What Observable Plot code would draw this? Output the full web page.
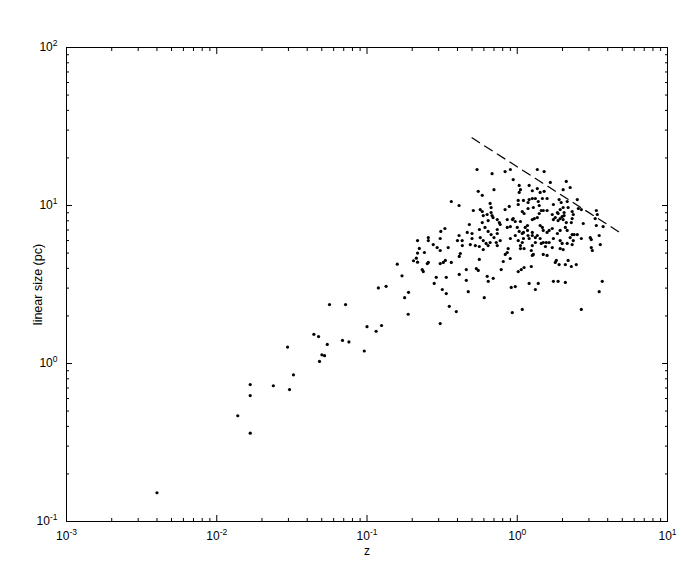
<!DOCTYPE html>
<html><head><meta charset="utf-8">
<script src="https://cdn.jsdelivr.net/npm/d3@7"></script>
<script src="https://cdn.jsdelivr.net/npm/@observablehq/plot@0.6"></script>
<style>body{margin:0;background:#fff}</style>
</head><body><div id="chart"></div>
<script>
// [z, linear size (pc)]
const lowZ = [[0.004,0.152],[0.0138,0.467],[0.0167,0.736],[0.0167,0.627],[0.0167,0.362],[0.0238,0.723],[0.0305,0.684],[0.0296,1.27],[0.0324,0.848],[0.0443,1.53],[0.0476,1.48],[0.0544,1.32],[0.0501,1.135],[0.0522,1.12],[0.0483,1.03],[0.0687,1.40],[0.0758,1.37],[0.0959,1.20],[0.1,1.71],[0.115,1.60],[0.125,1.74],[0.0563,2.36],[0.072,2.36],[0.119,3.01],[0.134,3.08],[0.159,4.25],[0.171,3.59],[0.189,2.82],[0.178,2.61],[0.188,2.05],[0.217,6.0],[0.223,5.35],[0.217,5.0],[0.213,4.64],[0.204,4.47],[0.217,4.38]];
const coreUpper = [[0.54,16.9],[0.68,15.9],[0.83,16.4],[0.90,16.9],[1.36,16.9],[0.94,14.6],[0.55,12.3],[0.585,11.6],[0.70,12.6],[1.03,13.4],[1.05,12.6],[1.03,12.1],[1.20,13.4],[1.26,12.4],[1.36,12.8],[0.364,10.6],[0.41,10.0],[0.51,9.3],[0.567,9.43],[0.585,9.16],[0.66,10.3],[0.67,9.7],[0.63,8.77],[0.594,8.64],[0.67,9.03],[0.68,8.64],[0.83,9.43],[0.885,9.86],[1.015,10.76],[1.10,10.76],[1.18,10.45],[1.20,10.9],[1.26,11.07],[1.32,11.07],[1.38,10.6],[1.015,10.15],[1.08,9.16],[1.11,8.9],[1.18,9.57],[1.28,9.71],[1.40,10.0],[0.94,8.27],[0.97,7.92],[1.05,7.92],[1.36,8.39],[1.40,8.9],[0.48,7.58],[0.585,7.8],[0.64,8.03],[0.69,8.39],[0.736,8.15],[0.76,7.8],[0.858,8.15],[0.93,8.15],[0.77,7.58],[0.858,7.26],[0.90,7.36],[1.0,7.26],[1.03,6.85],[0.56,7.05],[0.61,7.26],[0.64,6.85],[0.736,7.05],[0.67,6.55],[0.465,6.75],[0.50,6.65],[0.33,7.15],[0.31,6.85],[0.256,6.27],[0.41,6.46],[0.43,6.0],[0.50,6.18],[0.567,6.27],[0.594,6.0],[0.62,5.75],[0.70,6.27],[0.725,5.83],[0.77,6.0],[0.307,6.18],[0.256,6.0],[0.276,5.66],[0.293,5.42],[0.347,5.42],[0.40,6.0],[0.487,5.66],[0.559,5.5],[0.64,5.58],[0.90,6.18],[1.015,6.0],[1.05,5.58],[1.20,6.18],[1.26,5.58],[1.32,5.83],[1.36,6.46],[0.87,5.34],[1.11,5.34]];
const coreLower = [[0.307,5.19],[0.241,5.04],[0.431,5.58],[0.526,5.58],[0.594,5.26],[0.66,5.83],[0.736,6.65],[0.736,5.58],[0.559,4.56],[0.418,4.97],[0.411,4.76],[0.332,4.49],[0.322,4.36],[0.307,4.29],[0.364,4.36],[0.256,4.36],[0.252,4.29],[0.233,3.93],[0.237,3.82],[0.411,3.66],[0.458,3.93],[0.534,3.99],[0.55,3.88],[0.289,3.51],[0.28,3.21],[0.337,3.51],[0.317,2.94],[0.337,2.77],[0.458,3.36],[0.472,2.85],[0.603,2.61],[0.631,3.56],[0.641,3.31],[0.692,3.46],[0.782,3.93],[0.807,4.42],[0.832,4.9],[0.858,5.04],[0.898,4.62],[0.97,6.46],[1.08,5.83],[1.10,6.18],[1.18,6.46],[1.26,6.46],[1.32,6.27],[1.08,6.65],[1.24,5.19],[1.26,4.83],[1.28,4.9],[1.015,3.82],[1.063,3.93],[1.11,4.05],[1.20,3.21],[1.38,3.21],[0.912,3.03],[0.97,3.07],[0.353,2.30],[0.393,2.13],[0.307,1.79],[0.927,2.10],[1.08,2.20]];
const coreRight = [[1.51,16.4],[1.66,14.0],[2.12,14.2],[2.25,13.0],[2.02,12.6],[1.42,12.1],[1.51,12.3],[1.47,11.07],[1.58,11.07],[1.90,10.9],[1.96,10.45],[2.15,10.6],[2.18,9.71],[2.51,10.9],[2.55,9.57],[2.67,9.43],[1.445,9.3],[1.49,9.3],[1.58,9.3],[1.71,8.77],[1.74,10.15],[1.85,9.03],[1.87,8.9],[1.93,9.43],[2.02,9.71],[2.05,9.03],[1.99,8.51],[2.05,8.64],[2.32,9.16],[2.36,8.77],[3.36,9.3],[3.41,8.77],[1.26,8.15],[1.30,8.27],[1.17,7.47],[1.13,7.26],[1.42,7.47],[1.47,7.26],[1.74,8.15],[1.79,8.39],[1.87,8.03],[1.93,8.27],[2.02,8.15],[2.12,7.8],[2.32,8.27],[2.29,7.8],[2.75,7.69],[3.30,8.27],[3.36,7.47],[3.73,7.36],[1.10,6.75],[1.17,6.95],[1.26,6.75],[1.49,6.95],[1.58,6.75],[1.63,6.95],[1.71,7.15],[1.93,6.95],[2.09,7.26],[2.15,6.95],[2.32,6.55],[2.39,6.55],[2.51,6.55],[2.67,6.18],[3.06,6.27],[3.11,6.09],[3.51,6.46],[3.57,5.66],[1.42,6.18],[1.445,5.75],[1.49,5.83],[1.56,5.83],[1.63,5.83],[1.74,6.18],[1.93,6.0],[1.99,5.75],[2.15,5.75],[2.36,6.0],[2.32,5.66],[1.93,5.34],[2.02,5.26],[1.71,5.42],[3.11,5.42]];
const lowerRight = [[1.85,6.65],[2.25,6.27],[3.16,5.19],[1.54,5.5],[1.49,4.9],[1.58,4.83],[1.82,4.49],[1.79,4.36],[1.90,4.23],[2.09,4.23],[2.18,4.49],[2.29,4.11],[2.47,4.23],[1.24,4.11],[1.32,2.94],[1.74,3.31],[1.87,3.31],[2.09,3.26],[3.68,3.31],[3.51,2.85],[2.67,2.20],[1.05,5.34]];

// dashed limit line
const lineZ = [0.5, 5];
const lineSize = [26.8, 6.6];

// axes
const xMajor = [0.001, 0.01, 0.1, 1, 10];
const xLabels = ["10^-3", "10^-2", "10^-1", "10^0", "10^1"];
const yMajor = [0.1, 1, 10, 100];
const yLabels = ["10^-1", "10^0", "10^1", "10^2"];
const xMinor = [], yMinor = [];
for (let k = -3; k <= 0; k++) for (let m = 2; m <= 9; m++) xMinor.push(+(m * Math.pow(10, k)).toPrecision(3));
for (let k = -1; k <= 1; k++) for (let m = 2; m <= 9; m++) yMinor.push(+(m * Math.pow(10, k)).toPrecision(3));

const points = [...lowZ, ...coreUpper, ...coreLower, ...coreRight, ...lowerRight].map(([z, s]) => ({z, s}));
const line = lineZ.map((z, i) => ({z, s: lineSize[i]}));
const xFmt = d => xLabels[xMajor.indexOf(d)];
const yFmt = d => yLabels[yMajor.indexOf(d)];
const font = "'Liberation Sans', Arial, Helvetica, sans-serif";

const tickAxes = [];
for (const a of ["bottom", "top"]) {
  tickAxes.push(Plot.axisX({anchor: a, ticks: xMajor, tickSize: -6, fill: "none", label: null, stroke: "#000"}));
  tickAxes.push(Plot.axisX({anchor: a, ticks: xMinor, tickSize: -3, fill: "none", label: null, stroke: "#000"}));
}
for (const a of ["left", "right"]) {
  tickAxes.push(Plot.axisY({anchor: a, ticks: yMajor, tickSize: -6, fill: "none", label: null, stroke: "#000"}));
  tickAxes.push(Plot.axisY({anchor: a, ticks: yMinor, tickSize: -3, fill: "none", label: null, stroke: "#000"}));
}

const chart = Plot.plot({
  width: 681, height: 565,
  marginLeft: 66, marginRight: 14, marginTop: 47, marginBottom: 44,
  style: {fontFamily: font, fontSize: "12px", background: "#fff", color: "#000"},
  x: {type: "log", domain: [0.001, 10]},
  y: {type: "log", domain: [0.1, 100]},
  marks: [
    Plot.dot(points, {x: "z", y: "s", r: 1.6, fill: "#000", stroke: "none"}),
    Plot.line(line, {x: "z", y: "s", stroke: "#000", strokeWidth: 1.2, strokeDasharray: "9,6"}),
    ...tickAxes,
    Plot.axisX({anchor: "bottom", ticks: xMajor, tickSize: 0, tickPadding: 10, tickFormat: xFmt, label: null, fill: "#000"}),
    Plot.axisY({anchor: "left", ticks: yMajor, tickSize: 0, tickPadding: 9, tickFormat: yFmt, label: null, fill: "#000"}),
    Plot.frame({stroke: "#000", strokeWidth: 1}),
    Plot.text(["z"], {frameAnchor: "bottom", dy: 33, fontSize: 12, fill: "#000"}),
    Plot.text(["linear size (pc)"], {frameAnchor: "left", textAnchor: "middle", dx: -29, rotate: -90, fontSize: 12.5, fill: "#000"})
  ]
});

// render exponents as superscripts
chart.querySelectorAll("text").forEach(t => {
  const m = t.textContent.match(/^10\^(.+)$/);
  if (!m) return;
  t.textContent = "";
  const base = document.createElementNS("http://www.w3.org/2000/svg", "tspan");
  base.textContent = "10";
  const sup = document.createElementNS("http://www.w3.org/2000/svg", "tspan");
  sup.textContent = m[1];
  sup.setAttribute("dy", "-5");
  sup.setAttribute("font-size", "8.5");
  t.appendChild(base);
  t.appendChild(sup);
});
document.getElementById("chart").appendChild(chart);
</script>
</body></html>
